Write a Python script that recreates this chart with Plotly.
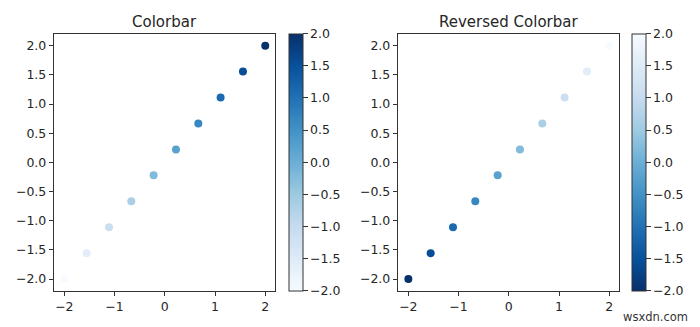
import plotly.graph_objects as go
import plotly.colors as pc

x_vals = [-2.0, -1.556, -1.111, -0.667, -0.222, 0.222, 0.667, 1.111, 1.556, 2.0]
y_vals = [-2.0, -1.556, -1.111, -0.667, -0.222, 0.222, 0.667, 1.111, 1.556, 2.0]
c_vals = [-2.0, -1.556, -1.111, -0.667, -0.222, 0.222, 0.667, 1.111, 1.556, 2.0]
titles = ["Colorbar", "Reversed Colorbar"]
x_ticks = [-2, -1, 0, 1, 2]
y_ticks = [-2.0, -1.5, -1.0, -0.5, 0.0, 0.5, 1.0, 1.5, 2.0]

W, H = 700, 327
blues = pc.sequential.Blues
FONT = "DejaVu Sans"
TXT = "#262626"

def px(v): return v / W
def py(v): return 1 - v / H

ax_top, ax_bot = 34, 290.7
axes_x = [(54.3, 275.3), (398.3, 619.3)]
cbar_x = [288.7, 632.3]

fig = go.Figure()
for i in range(2):
    xa = "x" if i == 0 else "x2"
    ya = "y" if i == 0 else "y2"
    fig.add_trace(go.Scatter(
        x=x_vals, y=y_vals, mode="markers", xaxis=xa, yaxis=ya,
        marker=dict(size=8, color=c_vals, colorscale=blues, reversescale=(i == 1),
                    cmin=-2, cmax=2, line=dict(width=0),
                    colorbar=dict(
                        x=px(cbar_x[i]), xanchor="left", xpad=0, ypad=0,
                        y=py(ax_bot), yanchor="bottom", len=(ax_bot - ax_top) / H,
                        lenmode="fraction", thickness=13.5, thicknessmode="pixels",
                        outlinewidth=1, outlinecolor="#333333",
                        tickmode="array", tickvals=y_ticks, tickformat=".1f",
                        ticks="outside", ticklen=4.5, tickwidth=1, tickcolor="#333333",
                        tickfont=dict(family=FONT, size=12.5, color=TXT),
                    )),
        showlegend=False, hoverinfo="skip"))

axis_common = dict(range=[-2.2, 2.2], showgrid=False, zeroline=False, showline=True,
                   linecolor="#333333", linewidth=1, mirror=True, ticks="outside",
                   ticklen=4.5, tickwidth=1, tickcolor="#333333",
                   tickfont=dict(family=FONT, size=12.5, color=TXT))

layout = dict(width=W, height=H, margin=dict(l=0, r=0, t=0, b=0),
              paper_bgcolor="white", plot_bgcolor="white")
for i in range(2):
    sx = "" if i == 0 else "2"
    layout["xaxis" + sx] = dict(axis_common, domain=[px(axes_x[i][0]), px(axes_x[i][1])],
                                anchor="y" + sx, tickvals=x_ticks, tickformat="d")
    layout["yaxis" + sx] = dict(axis_common, domain=[py(ax_bot), py(ax_top)],
                                anchor="x" + sx, tickvals=y_ticks, tickformat=".1f")
fig.update_layout(**layout)

for i in range(2):
    cx = (axes_x[i][0] + axes_x[i][1]) / 2
    fig.add_annotation(text=titles[i], x=px(cx), y=py(21.5), xref="paper", yref="paper",
                       xanchor="center", yanchor="middle", showarrow=False,
                       font=dict(family=FONT, size=15, color=TXT))

fig.add_annotation(text="wsxdn.com", x=px(690), y=py(317), xref="paper", yref="paper",
                   xanchor="right", yanchor="middle", showarrow=False,
                   font=dict(family=FONT, size=11.5, color="#333333"))

fig.write_html("out.html")
